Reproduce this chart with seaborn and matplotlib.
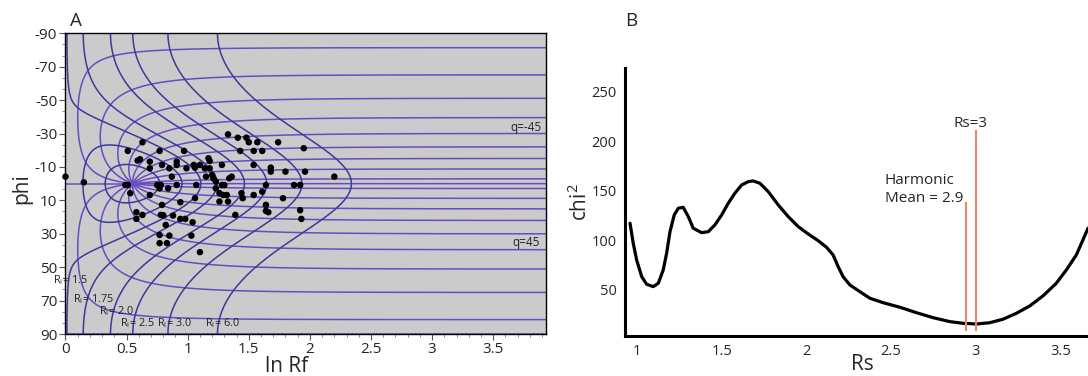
import numpy as np
import pandas as pd
import matplotlib
matplotlib.use("Agg")
import matplotlib.pyplot as plt
import seaborn as sns

# ---------------- data ----------------
# Panel A: Rf/phi grid parameters
strain_rs = 1.73
ri_values = [1.25, 1.5, 1.75, 2.0, 2.5, 3.0, 4.0, 6.0]
theta_values = [0, 5, -5, 15, -15, 25, -25, 35, -35, 45, -45, 55, -55,
                65, -65, 75, -75, 85, -85, 90]
ri_labels = ["1.5", "1.75", "2.0", "2.5", "3.0", "6.0"]
ri_label_x = [-0.10, 0.061, 0.274, 0.446, 0.749, 1.142]
ri_label_y = [57.6, 69.0, 76.1, 83.3, 83.3, 83.3]

# measured markers (ln Rf, phi)
ln_rf = [0.00, 0.15, 0.49, 0.51, 0.63, 0.51, 0.59, 0.61, 0.69, 0.69, 0.77, 0.79,
         0.85, 0.91, 0.91, 0.97, 0.99, 1.05, 1.06, 0.87, 0.75, 0.78, 0.77, 0.84,
         0.91, 1.07, 0.53, 0.69, 0.79, 0.94, 1.06, 0.58, 0.63, 0.58, 0.78, 0.80,
         0.88, 0.94, 0.98, 0.82, 1.04, 0.77, 0.85, 0.77, 0.83, 1.03,
         1.10, 1.39, 1.44, 1.45, 1.54, 1.26, 1.29, 1.32, 1.26, 1.33, 1.23,
         1.33, 1.41, 1.48, 1.50, 1.57, 1.74, 1.43, 1.54, 1.61, 1.95, 1.17, 1.18,
         1.10, 1.28, 1.54, 1.14, 1.18, 1.68, 1.68, 1.80, 1.96, 1.36, 1.34, 1.20,
         1.21, 1.15, 2.20, 1.23, 1.28, 1.30, 1.64, 1.87, 1.92, 1.61, 1.78, 1.64,
         1.64, 1.66, 1.92, 1.93]
phi = [-4.2, -0.8, 0.8, 0.8, -24.8, -19.6, -13.8, -14.6, -13.2, -9.2, -19.6, -11.2,
       -9.2, -13.2, -11.2, -19.6, -9.2, -11.2, -9.6, -4.2, 0.8, 0.8, 2.8, 2.8,
       0.8, 0.8, 5.7, 6.8, 12.7, 11.1, 8.7, 17.1, 18.7, 21.1, 18.7, 18.9,
       19.1, 21.1, 21.1, 24.7, 23.1, 30.7, 31.1, 35.6, 35.6, 31.1,
       41.0, 18.7, 5.7, 8.7, 6.8, 5.7, 6.8, 6.8, 10.7, 10.7, 2.8,
       -29.5, -27.5, -27.5, -24.8, -24.8, -24.8, -19.6, -19.6, -19.6, -21.2, -15.2, -13.6,
       -11.2, -11.2, -11.2, -9.2, -9.2, -9.6, -7.2, -7.2, -7.2, -4.2, -3.2, -5.2,
       -3.2, -4.2, -4.2, -1.2, 0.8, 0.8, 0.8, 0.8, 0.8, 4.8, 8.7, 12.7,
       16.3, 17.1, 15.9, 21.1]

# Panel B: chi-square curve
rs_grid = [0.959, 0.978, 0.998, 1.028, 1.057, 1.096, 1.126, 1.155, 1.175, 1.195,
           1.220, 1.244, 1.273, 1.303, 1.332, 1.382, 1.421, 1.460, 1.500, 1.539,
           1.578, 1.618, 1.657, 1.686, 1.726, 1.775, 1.834, 1.893, 1.952, 2.011,
           2.070, 2.119, 2.158, 2.188, 2.217, 2.257, 2.316, 2.375, 2.453, 2.552,
           2.650, 2.748, 2.847, 2.925, 3.004, 3.083, 3.161, 3.240, 3.319, 3.397,
           3.476, 3.535, 3.594, 3.633, 3.663]
chi2 = [117.3, 97.1, 80.3, 63.4, 55.8, 53.4, 56.8, 70.2, 87.0, 108.8,
        125.7, 132.4, 133.4, 124.0, 112.3, 107.8, 108.8, 115.6, 125.7, 137.5,
        147.6, 155.9, 159.3, 160.0, 157.6, 149.2, 135.8, 124.0, 113.9, 106.5,
        99.7, 93.1, 85.3, 73.5, 63.4, 55.1, 48.3, 41.7, 37.2, 32.6,
        27.1, 22.1, 18.1, 16.4, 15.7, 17.0, 20.5, 26.5, 33.9, 44.0,
        56.8, 70.2, 85.3, 100.5, 112.3]
rs_true = 3.0
rs_true_top = 211.0
harmonic_mean = 2.94
harmonic_top = 138.5
line_bottom = 8.7

# ---------------- geometry ----------------
def rf_phi(ri, theta_deg, rs):
    t = np.radians(theta_deg)
    c, s = np.cos(t), np.sin(t)
    m11 = ri * c**2 + s**2 / ri
    m22 = ri * s**2 + c**2 / ri
    m12 = (ri - 1.0 / ri) * s * c
    a, d, b = rs * m11, m22 / rs, m12
    tr = a + d
    lam = tr / 2 + np.sqrt(np.maximum(tr**2 / 4 - 1, 0))
    ph = 0.5 * np.degrees(np.arctan2(2 * b, a - d))
    return np.log(lam), ph


def segments(x, y, key):
    rows = []
    seg = 0
    brk = np.r_[False, np.abs(np.diff(y)) > 40]
    for xi, yi, bi in zip(x, y, brk):
        if bi:
            seg += 1
        rows.append((xi, yi, f"{key}_{seg}"))
    return rows

ri_rows = []
th = np.linspace(-90, 90, 2001)
for r in ri_values:
    x, y = rf_phi(r, th, strain_rs)
    ri_rows += segments(x, y, f"ri{r}")
ri_df = pd.DataFrame(ri_rows, columns=["x", "y", "unit"])

th_rows = []
rr = np.geomspace(1.0, 300, 2500)
for t in theta_values:
    x, y = rf_phi(rr, np.full_like(rr, float(t)), strain_rs)
    th_rows += segments(x, y, f"th{t}")
th_df = pd.DataFrame(th_rows, columns=["x", "y", "unit"])

pts = pd.DataFrame({"ln_rf": ln_rf, "phi": phi})
chi_df = pd.DataFrame({"rs": rs_grid, "chi2": chi2})

# ---------------- plotting ----------------
sns.set_theme(style="white")
plt.rcParams["font.family"] = ["Open Sans", "DejaVu Sans"]
plt.rcParams["axes.unicode_minus"] = False
plt.rcParams["mathtext.fontset"] = "custom"
plt.rcParams["mathtext.rm"] = "Open Sans"
plt.rcParams["mathtext.it"] = "Open Sans"

fig = plt.figure(figsize=(10.88, 3.76), dpi=100)
axA = fig.add_axes([0.0602, 0.1117, 0.4414, 0.7997])
axB = fig.add_axes([0.5744, 0.1072, 0.4256, 0.7112])

theta_col = "#6a4cc2"
ri_col = "#3a3a9e"

axA.set_facecolor("#cbcbcb")
sns.lineplot(data=th_df, x="x", y="y", units="unit", estimator=None, sort=False,
             color=theta_col, lw=1.1, ax=axA)
sns.lineplot(data=ri_df, x="x", y="y", units="unit", estimator=None, sort=False,
             color=ri_col, lw=1.1, ax=axA)
sns.scatterplot(data=pts, x="ln_rf", y="phi", color="black", s=22,
                edgecolor="none", ax=axA, zorder=5, clip_on=False)

axA.set_xlim(0, 3.93)
axA.set_ylim(90, -90)
xt = [0, 0.5, 1, 1.5, 2, 2.5, 3, 3.5]
axA.set_xticks(xt)
axA.set_xticklabels(["0", "0.5", "1", "1.5", "2", "2.5", "3", "3.5"])
yt = [-90, -70, -50, -30, -10, 10, 30, 50, 70, 90]
axA.set_yticks(yt)
axA.set_yticklabels([str(v) for v in yt])
axA.set_xticks(np.arange(0, 3.93, 0.1), minor=True)
axA.set_yticks(np.arange(-90, 90.1, 20 / 3), minor=True)
axA.tick_params(axis="both", which="major", length=4, width=0.8, color="#555555",
                labelsize=11, pad=2, left=True, bottom=True)
axA.tick_params(axis="both", which="minor", length=2, width=0.6, color="#777777",
                left=True, bottom=True)
for sp in axA.spines.values():
    sp.set_color("black")
    sp.set_linewidth(1.0)
axA.set_xlabel("ln Rf", fontsize=15)
axA.xaxis.label.set_va("baseline")
axA.xaxis.set_label_coords(0.461, -0.126)
axA.set_ylabel("phi", fontsize=15)
axA.yaxis.label.set_va("center")
axA.yaxis.set_label_coords(-0.092, 0.485)

for lab, lx, ly in zip(ri_labels, ri_label_x, ri_label_y):
    axA.text(lx, ly, "R$_\\mathregular{i}$= " + lab, fontsize=7.8, ha="left",
             va="center", color="#222222")
axA.text(3.894, -33.9, "q=-45", fontsize=8.5, ha="right", va="center", color="#222222")
axA.text(3.877, 35.5, "q=45", fontsize=8.5, ha="right", va="center", color="#222222")
fig.text(76 / 1088, 1 - 21.5 / 376, "A", fontsize=13.5, ha="center", va="center")

# Panel B
sns.lineplot(data=chi_df, x="rs", y="chi2", color="black", lw=2.3, sort=False,
             estimator=None, ax=axB)
orange = "#ec8764"
axB.vlines([harmonic_mean, rs_true], [line_bottom, line_bottom],
           [harmonic_top, rs_true_top], colors=orange, lw=1.5)
axB.text(2.969, 217.5, "Rs=3", fontsize=11, ha="center", va="center")
axB.text(2.463, 151.7, "Harmonic\nMean = 2.9", fontsize=11, ha="left", va="center",
         linespacing=1.25)
axB.set_xlim(0.929, 3.663)
axB.set_ylim(3.9, 273.6)
axB.set_xticks([1, 1.5, 2, 2.5, 3, 3.5])
axB.set_xticklabels(["1", "1.5", "2", "2.5", "3", "3.5"])
axB.set_yticks([50, 100, 150, 200, 250])
axB.set_yticklabels(["50", "100", "150", "200", "250"])
axB.tick_params(axis="both", length=0, labelsize=10.5, pad=6)
sns.despine(ax=axB)
for sp in ["left", "bottom"]:
    axB.spines[sp].set_color("black")
    axB.spines[sp].set_linewidth(2.2)
axB.set_xlabel("Rs", fontsize=15)
axB.xaxis.label.set_va("baseline")
axB.xaxis.set_label_coords(0.512, -0.128)
axB.set_ylabel("chi$^\\mathregular{2}$", fontsize=15)
axB.yaxis.label.set_va("center")
axB.yaxis.set_label_coords(-0.097, 0.5)
fig.text(631.5 / 1088, 1 - 21 / 376, "B", fontsize=13.5, ha="center", va="center")

fig.savefig("out.png", dpi=100)
